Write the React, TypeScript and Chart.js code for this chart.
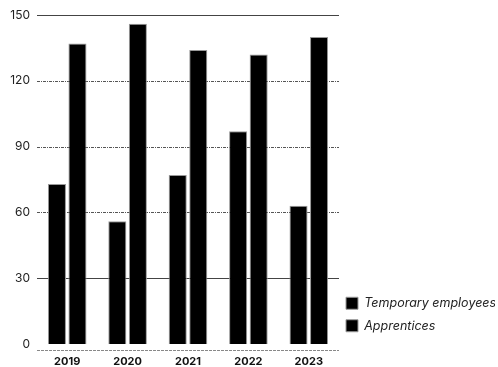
import React, { useEffect, useRef } from "react";
import { Chart, registerables } from "chart.js";

Chart.register(...registerables);

const categories = ["2019", "2020", "2021", "2022", "2023"];
const temporaryEmployees = [73, 56, 77, 97, 63];
const apprentices = [137, 146, 134, 132, 140];
const yTicks = [0, 30, 60, 90, 120, 150];
const solidGridValues = [150, 30];
const dashedGridValues = [120, 90, 60];

const FONT = "Inter, 'DejaVu Sans', sans-serif";

const gridPlugin = {
  id: "customGrid",
  beforeDatasetsDraw(chart: any) {
    const { ctx, chartArea, scales } = chart;
    const y = scales.y;
    ctx.save();
    ctx.lineWidth = 1;
    for (const v of solidGridValues) {
      const py = Math.round(y.getPixelForValue(v)) + 0.5;
      ctx.setLineDash([]);
      ctx.strokeStyle = "#444";
      ctx.beginPath();
      ctx.moveTo(chartArea.left, py);
      ctx.lineTo(chartArea.right, py);
      ctx.stroke();
    }
    for (const v of dashedGridValues) {
      const py = Math.round(y.getPixelForValue(v)) + 0.5;
      ctx.setLineDash([3, 1, 1, 1]);
      ctx.strokeStyle = "#555";
      ctx.beginPath();
      ctx.moveTo(chartArea.left, py);
      ctx.lineTo(chartArea.right, py);
      ctx.stroke();
    }
    const by = Math.round(chartArea.bottom) - 0.5;
    ctx.setLineDash([3, 1]);
    ctx.strokeStyle = "#888";
    ctx.beginPath();
    ctx.moveTo(chartArea.left, by);
    ctx.lineTo(chartArea.right, by);
    ctx.stroke();
    ctx.restore();
  },
};

const legendFitPlugin = {
  id: "legendFit",
  beforeUpdate(chart: any) {
    const legend = chart.legend;
    if (legend && !legend.__patched) {
      const origFit = legend.fit.bind(legend);
      legend.fit = function () {
        origFit();
        this.width = 159;
        if (this.columnSizes && this.columnSizes[0]) {
          this.columnSizes[0].height += 25;
        }
      };
      legend.__patched = true;
    }
  },
  afterLayout(chart: any) {
    const legend = chart.legend;
    if (legend) {
      legend.left -= 3;
      legend.right -= 3;
    }
  },
};

export default function App() {
  const ref = useRef<HTMLCanvasElement | null>(null);

  useEffect(() => {
    document.body.style.margin = "0";
    if (!ref.current) return;
    const chart = new Chart(ref.current, {
      type: "bar",
      data: {
        labels: categories,
        datasets: [
          {
            label: "Temporary employees",
            data: temporaryEmployees,
            backgroundColor: "#000",
            borderColor: "#999",
            borderWidth: 1,
            categoryPercentage: 0.68,
            barPercentage: 0.88,
          },
          {
            label: "Apprentices",
            data: apprentices,
            backgroundColor: "#000",
            borderColor: "#999",
            borderWidth: 1,
            categoryPercentage: 0.68,
            barPercentage: 0.88,
          },
        ],
      },
      options: {
        animation: false,
        responsive: false,
        maintainAspectRatio: false,
        layout: { padding: { top: 15, left: 0, right: 0, bottom: 0 } },
        plugins: {
          legend: {
            position: "right",
            align: "end",
            labels: {
              boxWidth: 12,
              boxHeight: 12,
              padding: 10,
              color: "#222",
              font: { family: FONT, size: 12.5, style: "italic" },
            },
          },
          tooltip: { enabled: false },
        },
        scales: {
          x: {
            grid: { display: false, drawTicks: false },
            border: { display: false },
            ticks: {
              color: "#111",
              font: { family: FONT, size: 11, weight: "bold" },
              padding: 4,
            },
            afterFit(scale: any) {
              scale.height = 16;
            },
          },
          y: {
            min: -3.2,
            max: 150,
            grid: { display: false, drawTicks: false },
            border: { display: false },
            afterBuildTicks(scale: any) {
              scale.ticks = yTicks.map((v) => ({ value: v }));
            },
            ticks: {
              color: "#222",
              font: { family: FONT, size: 12 },
              padding: 7,
            },
            afterFit(scale: any) {
              scale.width = 37;
            },
          },
        },
      },
      plugins: [gridPlugin, legendFitPlugin],
    });
    return () => chart.destroy();
  }, []);

  return (
    <div style={{ position: "absolute", left: 0, top: 0, width: 498, height: 367 }}>
      <canvas ref={ref} width={498} height={367} style={{ width: 498, height: 367 }} />
    </div>
  );
}
